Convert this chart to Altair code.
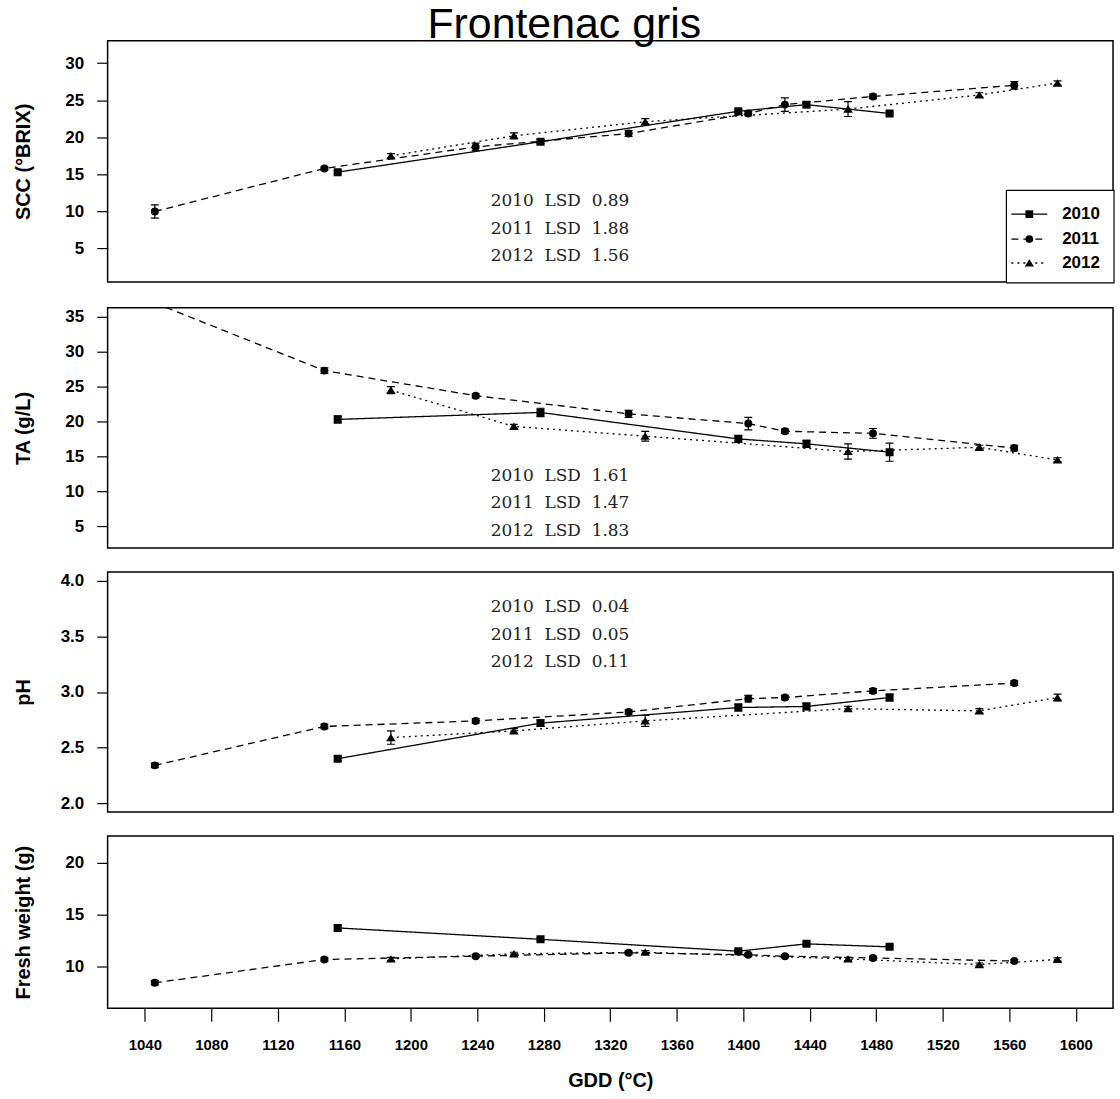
import altair as alt
import pandas as pd

# Sampling dates (growing degree days) for each season
years = ["2010", "2011", "2012"]
gdd_2010 = [1156, 1278, 1397, 1438, 1488]
gdd_2011 = [1046, 1148, 1239, 1331, 1403, 1425, 1478, 1563]
gdd_2012 = [1188, 1262, 1341, 1463, 1542, 1589]

# Soluble solids (°Brix): means and standard errors
scc_2010 = [15.3, 19.4, 23.5, 24.4, 23.2]
scc_2011 = [10.0, 15.8, 18.7, 20.5, 23.2, 24.4, 25.5, 27.0]
scc_2012 = [17.5, 20.2, 22.1, 23.8, 25.7, 27.3]
scc_se_2010 = [0.2, 0.3, 0.2, 0.4, 0.2]
scc_se_2011 = [0.9, 0.2, 0.5, 0.4, 0.3, 0.9, 0.3, 0.5]
scc_se_2012 = [0.3, 0.4, 0.4, 1.0, 0.3, 0.3]

# Titratable acidity (g/L)
ta_2010 = [20.3, 21.3, 17.5, 16.8, 15.6]
ta_2011 = [37.0, 27.3, 23.7, 21.1, 19.7, 18.6, 18.3, 16.2]
ta_2012 = [24.5, 19.3, 17.9, 15.7, 16.3, 14.5]
ta_se_2010 = [0.5, 0.6, 0.5, 0.5, 1.3]
ta_se_2011 = [0.5, 0.4, 0.3, 0.5, 0.9, 0.3, 0.7, 0.4]
ta_se_2012 = [0.5, 0.3, 0.7, 1.1, 0.3, 0.3]

# pH
ph_2010 = [2.40, 2.72, 2.86, 2.87, 2.95]
ph_2011 = [2.34, 2.69, 2.74, 2.82, 2.94, 2.95, 3.01, 3.08]
ph_2012 = [2.59, 2.65, 2.74, 2.85, 2.83, 2.95]
ph_se_2010 = [0.02, 0.03, 0.03, 0.03, 0.03]
ph_se_2011 = [0.02, 0.02, 0.02, 0.02, 0.03, 0.02, 0.02, 0.02]
ph_se_2012 = [0.06, 0.02, 0.05, 0.02, 0.02, 0.03]

# Berry fresh weight (g)
fw_2010 = [13.7, 12.6, 11.45, 12.16, 11.87]
fw_2011 = [8.4, 10.65, 10.97, 11.3, 11.1, 10.97, 10.8, 10.5]
fw_2012 = [10.7, 11.2, 11.35, 10.7, 10.16, 10.65]
fw_se_2010 = [0.3, 0.15, 0.15, 0.2, 0.15]
fw_se_2011 = [0.2, 0.15, 0.15, 0.15, 0.15, 0.15, 0.15, 0.15]
fw_se_2012 = [0.15, 0.15, 0.15, 0.15, 0.15, 0.15]

# Least significant differences per season
lsd_scc = [0.89, 1.88, 1.56]
lsd_ta = [1.61, 1.47, 1.83]
lsd_ph = [0.04, 0.05, 0.11]

gdd = {"2010": gdd_2010, "2011": gdd_2011, "2012": gdd_2012}

W = 1009
FONT = "Liberation Sans"
NB = "\u00a0"

# filled triangle drawn a little wider than the built-in symbol
TRIANGLE = "M0,-0.95L1.2,0.9L-1.2,0.9Z"

x_scale = alt.Scale(domain=[1017.6, 1622.4], nice=False, zero=False)
dash_scale = alt.Scale(domain=years, range=[[1, 0], [7, 5], [2, 4]])
shape_scale = alt.Scale(domain=years, range=["square", "circle", TRIANGLE])


def frame(means, ses):
    rows = []
    for yr, m, s in zip(years, means, ses):
        for g, v, e in zip(gdd[yr], m, s):
            rows.append({"Year": yr, "GDD": g, "value": v, "lo": v - e, "hi": v + e})
    return pd.DataFrame(rows)


def panel(means, ses, domain, ticks, title, height, lsd=None, lsd_y=None,
          fmt="d", bottom=False):
    df = frame(means, ses)
    y_axis = alt.Axis(values=ticks, format=fmt, title=title)
    if bottom:
        x_enc = alt.X("GDD:Q", scale=x_scale, title="GDD (°C)",
                      axis=alt.Axis(values=list(range(1040, 1601, 20)),
                                    labelExpr="datum.value % 40 == 0 ? datum.label : ''",
                                    format="d", tickSize=13, labelPadding=16,
                                    labelFontSize=15, titlePadding=18))
    else:
        x_enc = alt.X("GDD:Q", scale=x_scale, axis=None)
    y_scale = alt.Scale(domain=domain, nice=False, zero=False)
    base = alt.Chart(df)
    lines = base.mark_line(color="black", strokeWidth=1.3, clip=True).encode(
        x=x_enc,
        y=alt.Y("value:Q", scale=y_scale, axis=y_axis),
        strokeDash=alt.StrokeDash("Year:N", scale=dash_scale, legend=None),
        detail="Year:N",
    )
    bars = base.mark_rule(color="black", strokeWidth=1.2, clip=True).encode(
        x="GDD:Q", y="lo:Q", y2="hi:Q")
    cap_hi = base.mark_rule(color="black", strokeWidth=1.2, clip=True,
                            xOffset=-4, x2Offset=4).encode(
        x="GDD:Q", x2="GDD:Q", y="hi:Q")
    cap_lo = base.mark_rule(color="black", strokeWidth=1.2, clip=True,
                            xOffset=-4, x2Offset=4).encode(
        x="GDD:Q", x2="GDD:Q", y="lo:Q")
    pts = base.mark_point(filled=True, color="black", opacity=1, size=64,
                          clip=True).encode(
        x="GDD:Q", y="value:Q",
        shape=alt.Shape("Year:N", scale=shape_scale, legend=None),
    )
    layers = [lines, bars, cap_hi, cap_lo, pts]
    if lsd is not None:
        for yr, val, yy in zip(years, lsd, lsd_y):
            label = f"{yr}{NB}{NB}LSD{NB}{NB}{val:.2f}"
            layers.append(
                alt.Chart(pd.DataFrame({"Year": [yr]})).mark_text(
                    font="DejaVu Serif", fontSize=17, color="#222222",
                    align="center", baseline="middle").encode(
                    x=alt.value(454), y=alt.value(yy), text=alt.value(label)))
    return alt.layer(*layers).properties(width=W, height=height)


def legend_layers():
    box = alt.Chart(pd.DataFrame({"Year": years[:1]})).mark_rect(
        fill="white", stroke="black", strokeWidth=1.2).encode(
        x=alt.value(902), x2=alt.value(1010), y=alt.value(150), y2=alt.value(243))
    out = [box]
    dashes = {"2010": [1, 0], "2011": [7, 5], "2012": [2, 4]}
    shapes = {"2010": "square", "2011": "circle", "2012": TRIANGLE}
    for yr, yy in zip(years, [174, 199, 223]):
        d = alt.Chart(pd.DataFrame({"Year": [yr]}))
        out.append(d.mark_rule(color="black", strokeWidth=1.3,
                               strokeDash=dashes[yr]).encode(
            x=alt.value(907), x2=alt.value(943), y=alt.value(yy)))
        out.append(d.mark_point(filled=True, color="black", opacity=1, size=60,
                                shape=shapes[yr]).encode(
            x=alt.value(925), y=alt.value(yy)))
        out.append(d.mark_text(font=FONT, fontSize=17, fontWeight="bold",
                               align="left", baseline="middle", color="black").encode(
            x=alt.value(958), y=alt.value(yy), text=alt.value(yr)))
    return out


p1 = panel([scc_2010, scc_2011, scc_2012], [scc_se_2010, scc_se_2011, scc_se_2012],
           [0.5, 33.0], [5, 10, 15, 20, 25, 30], "SCC (°BRIX)", 242,
           lsd=lsd_scc, lsd_y=[161, 189, 216])
p1 = alt.layer(p1, *legend_layers())

p2 = panel([ta_2010, ta_2011, ta_2012], [ta_se_2010, ta_se_2011, ta_se_2012],
           [1.86, 36.3], [5, 10, 15, 20, 25, 30, 35], "TA (g/L)", 241,
           lsd=lsd_ta, lsd_y=[169, 196, 224])

p3 = panel([ph_2010, ph_2011, ph_2012], [ph_se_2010, ph_se_2011, ph_se_2012],
           [1.92, 4.08], [2.0, 2.5, 3.0, 3.5, 4.0], "pH", 241,
           lsd=lsd_ph, lsd_y=[35, 63, 90], fmt=".1f")

p4 = panel([fw_2010, fw_2011, fw_2012], [fw_se_2010, fw_se_2011, fw_se_2012],
           [5.93, 22.58], [10, 15, 20], "Fresh weight (g)", 173, bottom=True)

chart = alt.vconcat(p1, p2, p3, p4, spacing=22).properties(
    title=alt.TitleParams("Frontenac gris", fontSize=43, font=FONT,
                          fontWeight="normal", anchor="middle", color="black",
                          offset=-7),
    padding={"left": 13, "top": 2, "right": 4, "bottom": 4},
    background="white",
).configure_view(
    stroke="black", strokeWidth=1.5
).configure_axis(
    grid=False, domain=False, tickColor="black", tickWidth=1.2,
    labelColor="black", titleColor="black", labelFont=FONT, titleFont=FONT,
    labelFontWeight="bold", titleFontWeight="bold", titleFontSize=20,
).configure_axisY(
    tickSize=11, labelPadding=13, labelFontSize=17, titlePadding=29,
    minExtent=45, maxExtent=45,
)

chart.save("out.html", embed_options={"renderer": "svg", "actions": False})
